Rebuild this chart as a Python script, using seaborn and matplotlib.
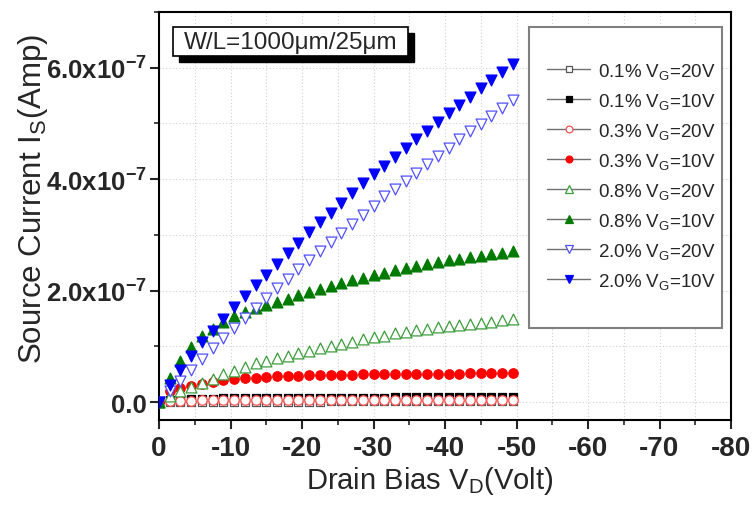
import numpy as np
import pandas as pd
import matplotlib
matplotlib.use("Agg")
import matplotlib.pyplot as plt
import seaborn as sns
from matplotlib.lines import Line2D
from matplotlib.patches import Rectangle
from matplotlib.ticker import MultipleLocator, FuncFormatter

# ---------------- data ----------------
drain_bias = [0, -1.5, -3, -4.5, -6, -7.5, -9, -10.5, -12, -13.5, -15, -16.5, -18,
              -19.5, -21, -22.5, -24, -25.5, -27, -28.5, -30, -31.5, -33, -34.5,
              -36, -37.5, -39, -40.5, -42, -43.5, -45, -46.5, -48, -49.5]

labels = ["0.1% V$_\\mathregular{G}$=20V", "0.1% V$_\\mathregular{G}$=10V",
          "0.3% V$_\\mathregular{G}$=20V", "0.3% V$_\\mathregular{G}$=10V",
          "0.8% V$_\\mathregular{G}$=20V", "0.8% V$_\\mathregular{G}$=10V",
          "2.0% V$_\\mathregular{G}$=20V", "2.0% V$_\\mathregular{G}$=10V"]

# currents in units of 1e-7 A
i_01_20 = [0, 0.0, 0.003, 0.005, 0.006, 0.007, 0.008, 0.008, 0.009, 0.009, 0.010,
           0.010, 0.010, 0.011, 0.011, 0.011, 0.012, 0.012, 0.012, 0.012, 0.013,
           0.013, 0.013, 0.013, 0.014, 0.014, 0.014, 0.014, 0.015, 0.015, 0.015,
           0.015, 0.016, 0.016]
i_01_10 = [0, 0.03, 0.045, 0.055, 0.060, 0.064, 0.067, 0.069, 0.071, 0.073, 0.074,
           0.075, 0.076, 0.077, 0.078, 0.079, 0.080, 0.080, 0.081, 0.082, 0.083,
           0.083, 0.084, 0.085, 0.085, 0.086, 0.087, 0.087, 0.088, 0.088, 0.089,
           0.090, 0.090, 0.091]
i_03_20 = [0, 0.02, 0.025, 0.028, 0.030, 0.031, 0.032, 0.033, 0.033, 0.034, 0.034,
           0.035, 0.035, 0.036, 0.036, 0.036, 0.037, 0.037, 0.037, 0.038, 0.038,
           0.038, 0.039, 0.039, 0.039, 0.040, 0.040, 0.040, 0.041, 0.041, 0.041,
           0.042, 0.042, 0.042]
i_03_10 = [0, 0.202, 0.25, 0.292, 0.333, 0.369, 0.393, 0.417, 0.429, 0.44, 0.452,
           0.464, 0.47, 0.476, 0.482, 0.488, 0.488, 0.494, 0.494, 0.5, 0.5, 0.5,
           0.506, 0.506, 0.506, 0.506, 0.512, 0.512, 0.512, 0.518, 0.518, 0.518,
           0.518, 0.518]
i_08_20 = [0, 0.11, 0.202, 0.274, 0.351, 0.417, 0.5, 0.565, 0.637, 0.696, 0.744,
           0.786, 0.833, 0.887, 0.923, 0.964, 1.006, 1.048, 1.083, 1.125, 1.161,
           1.196, 1.232, 1.262, 1.292, 1.315, 1.345, 1.369, 1.393, 1.411, 1.429,
           1.446, 1.470, 1.494]
i_08_10 = [0, 0.429, 0.744, 0.994, 1.185, 1.321, 1.440, 1.542, 1.625, 1.685, 1.738,
           1.798, 1.857, 1.917, 1.976, 2.036, 2.083, 2.137, 2.185, 2.232, 2.274,
           2.321, 2.369, 2.411, 2.446, 2.476, 2.512, 2.548, 2.571, 2.601, 2.631,
           2.655, 2.684, 2.708]
i_20_20 = [0, 0.202, 0.381, 0.577, 0.768, 0.964, 1.143, 1.333, 1.518, 1.690, 1.869,
           2.048, 2.214, 2.381, 2.542, 2.708, 2.869, 3.030, 3.196, 3.357, 3.512,
           3.702, 3.821, 3.970, 4.119, 4.268, 4.417, 4.565, 4.714, 4.857, 4.994,
           5.143, 5.280, 5.417]
i_20_10 = [0, 0.309, 0.577, 0.833, 1.071, 1.274, 1.488, 1.702, 1.899, 2.095, 2.286,
           2.482, 2.673, 2.857, 3.048, 3.226, 3.393, 3.571, 3.750, 3.929, 4.089,
           4.238, 4.405, 4.559, 4.714, 4.869, 5.030, 5.179, 5.333, 5.476, 5.631,
           5.786, 5.929, 6.071]

series_values = [i_01_20, i_01_10, i_03_20, i_03_10, i_08_20, i_08_10, i_20_20, i_20_10]

# styles: marker, face, edge, size (pt), edge width
styles = [
    ("s", "white", "#555555", 5.8, 0.9),
    ("s", "black", "black", 5.8, 0.9),
    ("o", "white", "#ff5050", 6.8, 0.9),
    ("o", "#ff0000", "#ff0000", 6.8, 0.9),
    ("^", "white", "#3c9c3c", 7.8, 0.9),
    ("^", "#007a00", "#007a00", 7.8, 0.9),
    ("v", "white", "#5050ff", 7.8, 0.9),
    ("v", "#0000ff", "#0000ff", 7.8, 0.9),
]

# ---------------- figure ----------------
sns.set_style("white")
plt.rcParams["font.family"] = ["Liberation Sans", "DejaVu Sans"]
plt.rcParams["mathtext.default"] = "regular"
plt.rcParams["axes.unicode_minus"] = False

fig = plt.figure(figsize=(7.55, 5.06), dpi=100)
L, R, T, B = 159, 731, 13, 421
W, H = 755, 506
ax = fig.add_axes([L / W, 1 - B / H, (R - L) / W, (B - T) / H])

for lab, vals, (mk, fc, ec, ms, mew) in zip(labels, series_values, styles):
    df = pd.DataFrame({"x": drain_bias, "y": np.array(vals) * 1e-7})
    sns.scatterplot(data=df, x="x", y="y", marker=mk, s=ms ** 2,
                    facecolor=fc, edgecolor=ec, linewidth=mew, ax=ax,
                    zorder=3, legend=False)

ax.set_xlim(0, -80)
ax.set_ylim(-0.32e-7, 7.0e-7)

ax.xaxis.set_major_locator(MultipleLocator(10))
ax.xaxis.set_minor_locator(MultipleLocator(5))
ax.yaxis.set_major_locator(MultipleLocator(2e-7))
ax.yaxis.set_minor_locator(MultipleLocator(1e-7))
ax.xaxis.set_major_formatter(FuncFormatter(lambda v, p: f"{int(round(v))}"))


def yfmt(v, p):
    if abs(v) < 1e-12:
        return "0.0"
    return f"{v / 1e-7:.1f}x10$^{{-7}}$"


ax.yaxis.set_major_formatter(FuncFormatter(yfmt))

ax.grid(True, which="both", color="#d0d0d0", linestyle=(0, (1, 2)), linewidth=0.8)
ax.set_axisbelow(True)

for sp in ax.spines.values():
    sp.set_color("black")
    sp.set_linewidth(1.5)
    sp.set_visible(True)

ax.tick_params(which="major", direction="out", length=6.5, width=1.5,
               pad=3, bottom=True, left=True)
ax.tick_params(which="minor", direction="out", length=3.5, width=1.2,
               bottom=True, left=True)
ax.tick_params(axis="x", which="major", labelsize=20, pad=4)
ax.tick_params(axis="y", which="major", labelsize=18.5, pad=2)
for t in ax.get_xticklabels() + ax.get_yticklabels():
    t.set_fontweight("bold")

ax.set_xlabel("Drain Bias V$_\\mathregular{D}$(Volt)", fontsize=21)
ax.set_ylabel("Source Current I$_\\mathregular{S}$(Amp)", fontsize=22.5)
ax.xaxis.set_label_coords(0.473, -0.108)
ax.yaxis.set_label_coords(-0.19, 0.544)

# W/L annotation box with shadow
bx0, bx1 = (173 - L) / (R - L), (408 - L) / (R - L)
by1, by0 = (B - 28) / (B - T), (B - 57) / (B - T)
dx, dy = 6 / (R - L), 6 / (B - T)
ax.add_patch(Rectangle((bx0 + dx, by0 - dy), bx1 - bx0, by1 - by0, transform=ax.transAxes,
                       facecolor="black", edgecolor="black", zorder=6))
ax.add_patch(Rectangle((bx0, by0), bx1 - bx0, by1 - by0, transform=ax.transAxes,
                       facecolor="white", edgecolor="black", linewidth=1.2, zorder=7))
ax.text((bx0 + bx1) / 2, (by0 + by1) / 2, "W/L=1000\u03bcm/25\u03bcm", transform=ax.transAxes,
        ha="center", va="center", fontsize=17.5, zorder=8)

# legend frame
lx0, lx1 = (529 - L) / (R - L), (722 - L) / (R - L)
ly1, ly0 = (B - 28) / (B - T), (B - 329) / (B - T)
ax.add_patch(Rectangle((lx0, ly0), lx1 - lx0, ly1 - ly0, transform=ax.transAxes,
                       facecolor="white", edgecolor="#808080", linewidth=1.5, zorder=6))

handles = []
for mk, fc, ec, ms, mew in styles:
    handles.append(Line2D([0], [0], color="#707070", linewidth=1.0, marker=mk,
                          markersize=ms * 0.72, markerfacecolor=fc, markeredgecolor=ec,
                          markeredgewidth=mew))
leg = ax.legend(handles, labels, loc="upper left",
                bbox_to_anchor=((547 - L) / (R - L), (B - 62) / (B - T)),
                frameon=False, fontsize=13.5, handlelength=2.3, handletextpad=0.4,
                labelspacing=0.53, borderpad=0, borderaxespad=0)
leg.set_zorder(9)

fig.savefig("out.png", dpi=100)
